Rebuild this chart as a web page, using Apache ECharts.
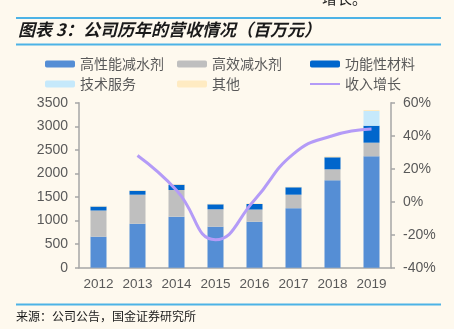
<!DOCTYPE html>
<html><head><meta charset="utf-8">
<script src="https://cdn.jsdelivr.net/npm/echarts@6/dist/echarts.min.js"></script>
<style>html,body{margin:0;padding:0;background:#FEF9EE;}#c{width:454px;height:329px;}</style>
</head><body><div id="c"></div>
<script>
const years = ['2012','2013','2014','2015','2016','2017','2018','2019'];
const highPerf = [658, 933, 1082, 870, 976, 1263, 1854, 2363];
const highEff = [555, 616, 566, 369, 258, 286, 233, 289];
const functional = [85, 84, 113, 106, 117, 157, 255, 360];
const techService = [0, 0, 0, 0, 0, 0, 0, 312];
const others = [15, 15, 15, 13, 15, 12, 21, 21];
const growth = [null, 28, 7, -23, 1, 29, 40, 44];
const leftTicks = [0, 3500, 500];
const rightTicks = [-40, 60, 20];

const chart = echarts.init(document.getElementById('c'));
const font = 'Liberation Sans, Arial, sans-serif';
const cjk = '"Noto Sans CJK SC", sans-serif';
const axisGray = '#A6A6A6';
const labelGray = '#595959';
function bar(name, data, color) {
  return {name, type:'bar', stack:'rev', data, barWidth:16, itemStyle:{color}, emphasis:{disabled:true}};
}
function legend(left, names) {
  return {left, top:52, orient:'vertical', itemGap:6, itemWidth:30, itemHeight:7,
    textStyle:{fontSize:14, color:labelGray, fontFamily:cjk}, itemStyle:{borderWidth:0},
    data:names, selectedMode:false};
}
chart.setOption({
  backgroundColor:'#FEF9EE',
  animation:false,
  legend:[
    legend(40, ['高性能减水剂','技术服务']),
    legend(172, ['高效减水剂','其他']),
    legend(304, ['功能性材料', {name:'收入增长', itemStyle:{opacity:0}}])
  ],
  grid:{left:79, right:63, top:102.7, bottom:61.3},
  xAxis:{type:'category', data:years,
    axisLine:{lineStyle:{color:axisGray, width:1.5}},
    axisTick:{length:4, lineStyle:{color:axisGray, width:1.5}},
    axisLabel:{color:labelGray, fontSize:13.5, fontFamily:font, margin:10, interval:0}},
  yAxis:[
    {type:'value', min:leftTicks[0], max:leftTicks[1], interval:leftTicks[2],
      axisLine:{show:true, lineStyle:{color:axisGray, width:1.5}},
      axisTick:{show:true, length:4, lineStyle:{color:axisGray, width:1.5}},
      splitLine:{show:false},
      axisLabel:{color:labelGray, fontSize:14, fontFamily:font, margin:11, formatter:v => String(v)}},
    {type:'value', min:rightTicks[0], max:rightTicks[1], interval:rightTicks[2],
      axisLine:{show:true, lineStyle:{color:axisGray, width:1.5}},
      axisTick:{show:true, length:4, lineStyle:{color:axisGray, width:1.5}},
      splitLine:{show:false},
      axisLabel:{color:labelGray, fontSize:14, fontFamily:font, margin:12, formatter:'{value}%'}}
  ],
  series:[
    bar('高性能减水剂', highPerf, '#558ED5'),
    bar('高效减水剂', highEff, '#BFBFBF'),
    bar('功能性材料', functional, '#0066CC'),
    bar('技术服务', techService, '#C6E9FB'),
    bar('其他', others, '#FFEBC2'),
    {name:'收入增长', type:'line', yAxisIndex:1, data:growth, smooth:0.5, symbol:'none', showSymbol:false,
      lineStyle:{color:'#B49BF7', width:3}, itemStyle:{color:'#B49BF7'}, emphasis:{disabled:true}}
  ],
  graphic:[
    {type:'rect', shape:{x:16, y:17, width:425, height:2}, style:{fill:'#4DB3E6'}},
    {type:'rect', shape:{x:16, y:43.5, width:425, height:2}, style:{fill:'#4DB3E6'}},
    {type:'rect', shape:{x:16, y:303.5, width:425, height:2}, style:{fill:'#4DB3E6'}},
    {type:'text', x:18, y:30, style:{text:'图表 3：公司历年的营收情况（百万元）', fill:'#1A1A1A',
      font:'italic bold 17px "Noto Sans CJK SC", sans-serif', textVerticalAlign:'middle'}},
    {type:'text', x:322, y:6, style:{text:'增长。', fill:'#1A1A1A',
      font:'15px "Noto Sans CJK SC", sans-serif', textVerticalAlign:'bottom'}},
    {type:'text', x:16, y:316, style:{text:'来源：公司公告，国金证券研究所', fill:'#1A1A1A',
      font:'12px "Noto Sans CJK SC", sans-serif', textVerticalAlign:'middle'}}
  ]
});
</script></body></html>
